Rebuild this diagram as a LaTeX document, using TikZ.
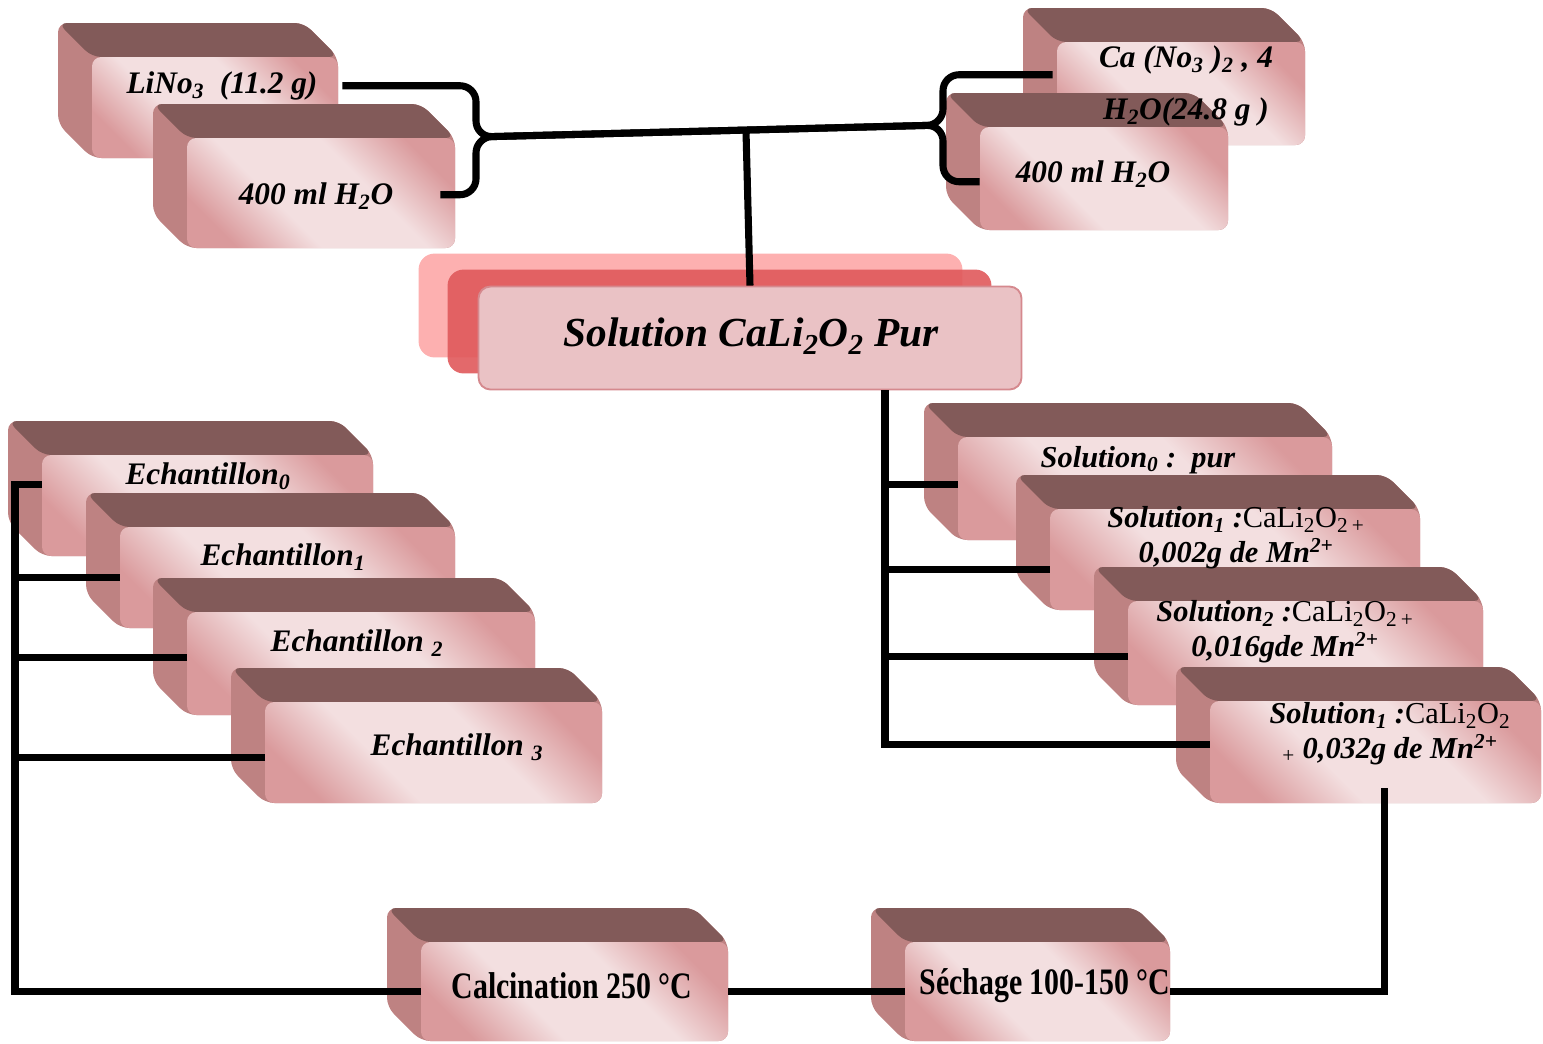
\documentclass[tikz,border=0pt]{standalone}
\usepackage{fontspec}
\setmainfont{Liberation Serif}
\newfontfamily\narrowserif[FakeStretch=0.8]{Liberation Serif}
\usepackage{tikz}
\usetikzlibrary{calc,backgrounds}
\pgfdeclarelayer{labels}
\pgfsetlayers{background,main,labels}
\definecolor{sidetop}{HTML}{825A59}
\definecolor{sideleft}{HTML}{BE8282}
\definecolor{facerose}{HTML}{DA9A9C}
\definecolor{facelight}{HTML}{F3DFE0}
\definecolor{purback}{HTML}{FDB0B0}
\definecolor{purmid}{HTML}{E0595B}
\definecolor{purface}{HTML}{EAC2C5}
\definecolor{purline}{HTML}{D5898E}
\pgfdeclareverticalshading{facegrad}{100bp}{color(0bp)=(facerose); color(24bp)=(facerose);
  color(40bp)=(facelight); color(60bp)=(facelight); color(76bp)=(facerose); color(100bp)=(facerose)}
\tikzset{
  face/.style={rounded corners=7pt, shading=facegrad, shading angle=-45, inner sep=0pt},
  lbl/.style={font=\fontsize{23.5}{28}\selectfont\bfseries\itshape, align=center, inner sep=0pt},
  sollbl/.style={lbl, font=\fontsize{22.8}{26}\selectfont\bfseries\itshape},
  steplbl/.style={font=\narrowserif\fontsize{28}{32}\selectfont\bfseries, inner sep=0pt},
  purlbl/.style={font=\fontsize{31}{36}\selectfont\bfseries\itshape, inner sep=0pt},
  purbox/.style={draw=purline, line width=1.4pt, fill=purface, rounded corners=9pt, inner sep=0pt},
  link/.style={line width=5.3pt, draw=black},
}
\newcommand{\dd}{34}
\newcommand{\px}{0.75pt}
% 3D block: [label style]{name}{x1}{y1}{x2}{y2}{text x}{text y}{text}
\newcommand{\cube}[9][lbl]{%
  \fill[sideleft, rounded corners=7pt] (#3-\dd,#4-\dd) -- (#5-\dd,#4-\dd) -- (#5,#4) -- (#5,#6)
    -- (#3,#6) -- (#3-\dd,#6-\dd) -- cycle;
  \fill[sidetop, rounded corners=7pt] (#3-\dd,#4-\dd) -- (#5-\dd,#4-\dd) -- (#5,#4) -- (#3,#4) -- cycle;
  \node[face, minimum width={(#5-#3)*\px}, minimum height={(#6-#4)*\px}] (#2) at ({(#3+#5)/2},{(#4+#6)/2}) {};
  \begin{pgfonlayer}{labels}
    \node[#1] (#2t) at (#7,#8) {#9};
  \end{pgfonlayer}
}

\begin{document}
\begin{tikzpicture}[x=0.75pt, y=-0.75pt]
\useasboundingbox (0,0) rectangle (1543,1043);

\cube{lino}{92}{57}{338}{158}{222}{86}{LiNo\textsubscript{3}\ \ (11.2 g)}
\cube{hoL}{187}{138}{455}{248}{316}{196}{400 ml H\textsubscript{2}O}
\cube{cano}{1057}{42}{1305}{145}{1186}{86}{Ca (No\textsubscript{3} )\textsubscript{2} , 4\\[11pt]H\textsubscript{2}O(24.8 g )}
\cube{hoR}{980}{127}{1228}{230}{1093}{174}{400 ml H\textsubscript{2}O}

\node[purbox, minimum width={543*\px}, minimum height={103*\px}] (pur) at (750,338) {};
\node[purlbl] (purt) at (751,336) {Solution CaLi\textsubscript{2}O\textsubscript{2} Pur};
\begin{scope}[on background layer]
  \fill[purback, rounded corners=12pt] ($(pur.north west)+(-59,-32)$) rectangle ($(pur.south east)+(-60,-33)$);
  \fill[purmid, fill opacity=0.9, rounded corners=12pt] ($(pur.north west)+(-30,-16)$) rectangle ($(pur.south east)+(-31,-17)$);
\end{scope}

\cube{e0}{42}{455}{373}{556}{208}{476}{Echantillon\textsubscript{0}}
\cube{e1}{120}{527}{455}{628}{283}{557}{Echantillon\textsubscript{1}}
\cube{e2}{187}{612}{535}{715}{357}{643}{Echantillon \textsubscript{2}}
\cube{e3}{265}{702}{602}{803}{457}{747}{Echantillon \textsubscript{3}}

\cube[sollbl]{s0}{958}{437}{1332}{540}{1138}{460}{Solution\textsubscript{0} :\ \ pur}
\cube[sollbl]{s1}{1050}{509}{1420}{610}{1236}{538}{Solution\textsubscript{1} :{\normalfont CaLi\textsubscript{2}O\textsubscript{2}\textsubscript{\,+}}\\0,002g de Mn\textsuperscript{2+}}
\cube[sollbl]{s2}{1128}{601}{1483}{705}{1285}{632}{Solution\textsubscript{2} :{\normalfont CaLi\textsubscript{2}O\textsubscript{2}\textsubscript{\,+}}\\0,016gde Mn\textsuperscript{2+}}
\cube[sollbl]{s3}{1210}{701}{1541}{803}{1390}{734}{Solution\textsubscript{1} :{\normalfont CaLi\textsubscript{2}O\textsubscript{2}}\\{\normalfont\textsubscript{+}} 0,032g de Mn\textsuperscript{2+}}

\cube[steplbl]{calc}{421}{942}{728}{1041}{572}{986}{Calcination 250 °C}
\cube[steplbl]{sech}{905}{942}{1170}{1041}{1045}{986}{Séchage 100-150 °C}

\coordinate (ltip) at (476,137);
\coordinate (rtip) at (943,125);
\coordinate (lspine) at (15,0);
\coordinate (rspine) at (885,0);
\foreach \n/\dy in {e0/30,e1/51,e2/46,e3/56,s0/48,s1/61,s2/56,s3/44}
  \coordinate (\n-in) at ($(\n.north west)+(0,\dy)$);

\draw[link, rounded corners=12pt] ($(lino.north east)+(4,29)$) -| (ltip) -- (rtip) |- ($(cano.north west)+(-4,33)$);
\draw[link, rounded corners=12pt] ($(hoL.north east)+(-15,57)$) -| (ltip) -- (rtip) |- ($(hoR.north west)+(0,55)$);
\draw[link] (pur.north) -- ($(ltip)!(pur.north)!(rtip)$);

\draw[link] (pur.south -| rspine) -- (s3-in -| rspine) -- (s3-in);
\foreach \n in {s0,s1,s2}
  \draw[link] (\n-in) -- (\n-in -| rspine);

\draw[link] ($(s3.south west)+(175,-15)$) |- (sech.east);
\draw[link] (sech.west) -- (calc.east);
\draw[link] (calc.west) -| (e0-in -| lspine) -- (e0-in);
\foreach \n in {e1,e2,e3}
  \draw[link] (\n-in) -- (\n-in -| lspine);

\end{tikzpicture}
\end{document}
